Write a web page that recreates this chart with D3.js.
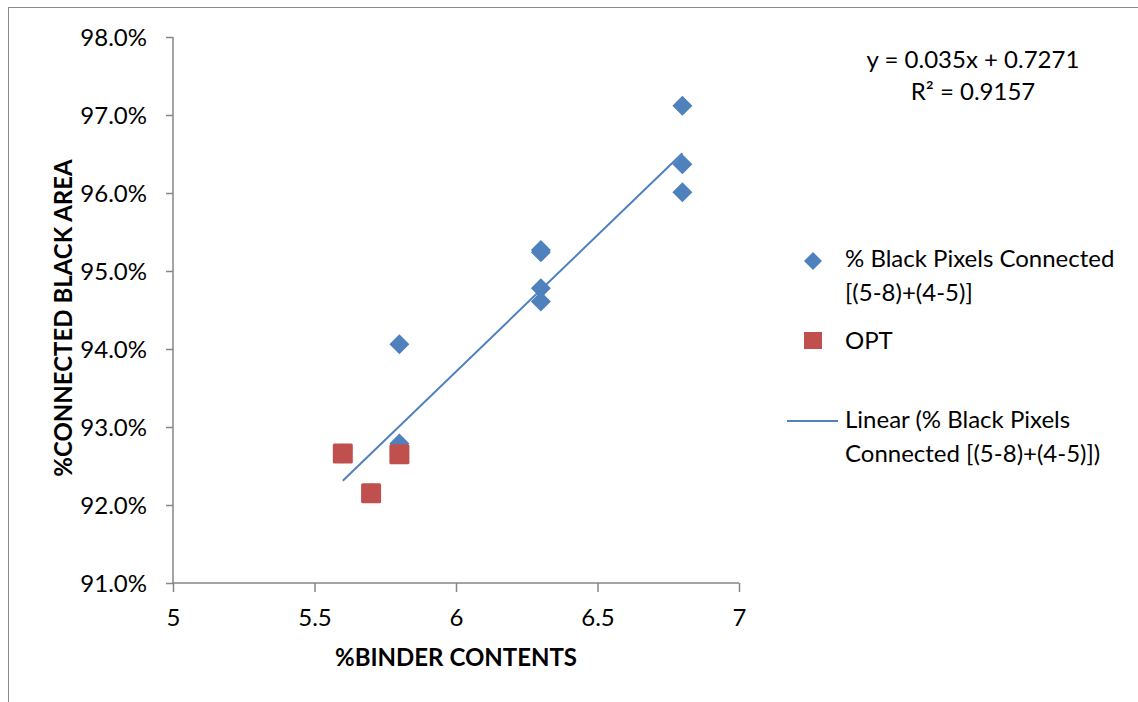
<!DOCTYPE html>
<html><head><meta charset="utf-8">
<script src="https://cdn.jsdelivr.net/npm/d3@7"></script>
<style>body{margin:0;background:#fff}svg{display:block}text{font-family:Lato,"Open Sans",sans-serif}</style>
</head><body>
<script>
const blueX = [5.6, 5.7, 5.8, 5.8, 6.3, 6.3, 6.3, 6.3, 6.8, 6.8, 6.8];
const blueY = [0.9266, 0.9215, 0.9406, 0.9279, 0.9527, 0.9524, 0.9478, 0.9461, 0.9712, 0.9637, 0.9601];
const optX = [5.6, 5.7, 5.8];
const optY = [0.9266, 0.9215, 0.9265];
const trendSlope = 0.035, trendIntercept = 0.7271;
const trendRange = [5.6, 6.8];
const xTicks = [5, 5.5, 6, 6.5, 7];
const yTicks = [0.91, 0.92, 0.93, 0.94, 0.95, 0.96, 0.97, 0.98];
const eqLines = ["y = 0.035x + 0.7271", "R² = 0.9157"];
const legendItems = ["% Black Pixels Connected|[(5-8)+(4-5)]", "OPT", "Linear (% Black Pixels|Connected [(5-8)+(4-5)])"];

const W = 1138, H = 702;
const FS = 24;
const blue = "#4F81BD", red = "#C0504D", axisC = "#868686";
const svg = d3.select("body").append("svg").attr("width", W).attr("height", H);
svg.append("rect").attr("x", 8.5).attr("y", 7.5).attr("width", 1300).attr("height", 900)
  .attr("fill", "none").attr("stroke", "#8a8a8a").attr("stroke-width", 1);

const x = d3.scaleLinear().domain([5, 7]).range([173, 739]);
const y = d3.scaleLinear().domain([0.91, 0.98]).range([583, 37]);

const gx = svg.append("g").attr("transform", "translate(0,583)")
  .call(d3.axisBottom(x).tickValues(xTicks).tickSize(9).tickFormat(d3.format("")));
const gy = svg.append("g").attr("transform", "translate(173,0)")
  .call(d3.axisLeft(y).tickValues(yTicks).tickSize(7).tickPadding(19).tickFormat(d3.format(".1%")));
[gx, gy].forEach(g => {
  g.select(".domain").attr("stroke", axisC).attr("stroke-width", 1.5);
  g.selectAll(".tick line").attr("stroke", axisC).attr("stroke-width", 1.5);
  g.selectAll("text").attr("font-size", FS).attr("fill", "#000")
    .style("font-family", 'Lato,"Open Sans",sans-serif');
});
gx.selectAll(".tick text").attr("y", 43).attr("dy", 0);
gy.selectAll(".tick text").attr("dy", "0.36em");
gx.select(".domain").attr("d", "M173,0H739");
gy.select(".domain").attr("d", "M0,37V583");

// trendline
svg.append("line")
  .attr("x1", x(trendRange[0])).attr("y1", y(trendSlope * trendRange[0] + trendIntercept))
  .attr("x2", x(trendRange[1])).attr("y2", y(trendSlope * trendRange[1] + trendIntercept))
  .attr("stroke", blue).attr("stroke-width", 2);

const blueData = blueX.map((v, i) => [v, blueY[i]]);
const optData = optX.map((v, i) => [v, optY[i]]);
const diamond = "M0,-10L10,0L0,10L-10,0Z";
svg.append("g").selectAll("path").data(blueData).join("path")
  .attr("d", diamond).attr("fill", blue)
  .attr("transform", d => `translate(${x(d[0])},${y(d[1])})`);
svg.append("g").selectAll("rect").data(optData).join("rect")
  .attr("x", d => x(d[0]) - 10).attr("y", d => y(d[1]) - 10)
  .attr("width", 20).attr("height", 20).attr("rx", 1.5).attr("fill", red);

// equation
svg.append("g").selectAll("text").data(eqLines).join("text")
  .attr("x", 973).attr("y", (d, i) => 68 + i * 32).attr("text-anchor", "middle")
  .attr("font-size", FS).text(d => d);

// axis titles
svg.append("text").attr("x", 456).attr("y", 666).attr("text-anchor", "middle")
  .attr("font-size", FS).attr("font-weight", "bold").text("%BINDER CONTENTS");
svg.append("text").attr("transform", "translate(72,318) rotate(-90)").attr("text-anchor", "middle")
  .attr("font-size", FS).attr("font-weight", "bold").text("%CONNECTED BLACK AREA");

// legend
const leg = svg.append("g");
const legY = [261, 341, 421];
leg.append("path").attr("d", "M0,-9L9,0L0,9L-9,0Z").attr("fill", blue).attr("transform", `translate(813,${legY[0]})`);
leg.append("rect").attr("x", 804).attr("y", 332).attr("width", 18).attr("height", 17).attr("fill", red);
leg.append("line").attr("x1", 787).attr("x2", 838).attr("y1", legY[2]).attr("y2", legY[2]).attr("stroke", blue).attr("stroke-width", 2);
const legBase = [267, 349, 428];
legendItems.forEach((t, i) => {
  const tx = leg.append("text").attr("x", 845).attr("y", legBase[i]).attr("font-size", FS);
  t.split("|").forEach((s, j) => tx.append("tspan").attr("x", 845).attr("dy", j ? 34 : 0).text(s));
});
</script>
</body></html>
